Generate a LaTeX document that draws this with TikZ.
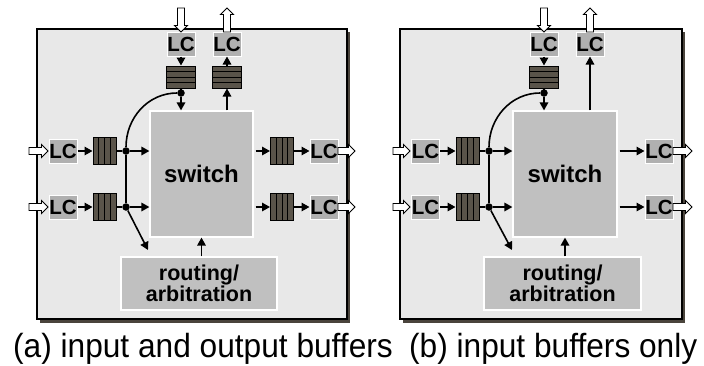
\documentclass[tikz,border=0pt]{standalone}
\usepackage{fontspec}
\setmainfont{Liberation Sans}
\usetikzlibrary{arrows.meta,calc}
\definecolor{panelc}{HTML}{E8E8E8}
\definecolor{shadc}{HTML}{4A443C}
\definecolor{blkc}{HTML}{C0C0C0}
\definecolor{lcc}{HTML}{B0B0B0}
\definecolor{bufc}{HTML}{5A544A}
\tikzset{
  panel/.style={draw=black, line width=1.2pt, fill=panelc},
  blk/.style={draw=white, line width=1.2pt, fill=blkc, inner sep=0pt, align=center,
    font=\bfseries\fontsize{24}{26}\selectfont},
  lc/.style={draw=white, line width=1pt, fill=lcc, minimum width=28pt, minimum height=24pt,
    inner sep=0pt, font=\bfseries\fontsize{20.5}{20}\selectfont},
  arr/.style={line width=1.6pt, -{Triangle[length=8pt,width=8.5pt]}},
  ln/.style={line width=1.6pt},
  dotc/.style={circle, fill=black, inner sep=0pt, minimum size=7.5pt},
  pics/oarrow/.style={code={
    \draw[line width=0.9pt, fill=white, line join=miter]
      (0,-3.5) -- (#1-6.5,-3.5) -- (#1-6.5,-6.5) -- (#1,0) -- (#1-6.5,6.5) -- (#1-6.5,3.5) -- (0,3.5) -- cycle;}},
  vbuf/.style={draw=black, line width=1pt, fill=bufc, minimum width=23pt, minimum height=27pt,
    inner sep=0pt, path picture={
      \foreach \f in {0.25,0.5,0.75}{
        \draw[line width=1pt] ($(path picture bounding box.north west)!\f!(path picture bounding box.north east)$)
          -- ($(path picture bounding box.south west)!\f!(path picture bounding box.south east)$);}}},
  hbuf/.style={draw=black, line width=1pt, fill=bufc, minimum width=29pt, minimum height=22pt,
    inner sep=0pt, path picture={
      \foreach \f in {0.25,0.5,0.75}{
        \draw[line width=1pt] ($(path picture bounding box.north west)!\f!(path picture bounding box.south west)$)
          -- ($(path picture bounding box.north east)!\f!(path picture bounding box.south east)$);}}},
  captext/.style={anchor=base west, inner sep=0pt, font=\fontsize{33.5}{33}\selectfont},
  rtfont/.style={font=\bfseries\fontsize{21.5}{21.5}\selectfont},
}
\begin{document}
\begin{tikzpicture}[x=1pt,y=-1pt]
\useasboundingbox (0,0) rectangle (704,365);

% ---------------- panel (a) ----------------
\fill[shadc] (40,32) rectangle (350,323);
\draw[panel] (37,29) rectangle (347,319);
\node[blk, minimum width=103pt, minimum height=126pt] (swA) at (201.5,174) {switch};
\node[blk, rtfont, minimum width=156pt, minimum height=53pt] (rtA) at (199,283.5) {routing/\\arbitration};
\node[lc] (lcAti) at (181,44) {LC};
\node[lc] (lcAto) at (227,44) {LC};
\node[hbuf] (bAti) at (181,77) {};
\node[hbuf] (bAto) at (227,77) {};
\node[dotc] (dA0) at (181,93) {};
\node[lc] (lcAi1) at (63,151) {LC};
\node[lc] (lcAi2) at (63,207) {LC};
\node[vbuf] (bAi1) at (104.5,151) {};
\node[vbuf] (bAi2) at (104.5,207) {};
\node[dotc] (dA1) at (126,151) {};
\node[dotc] (dA2) at (126,207) {};
\node[vbuf] (bAo1) at (282,151) {};
\node[vbuf] (bAo2) at (282,207) {};
\node[lc] (lcAo1) at (324,151) {LC};
\node[lc] (lcAo2) at (324,207) {LC};
\pic (oAi1) at (29,151) {oarrow=19};
\pic (oAi2) at (29,207) {oarrow=19};
\pic (oAo1) at (338,151) {oarrow=17};
\pic (oAo2) at (338,207) {oarrow=17};
\pic[rotate=-90] (oAti) at (181,8) {oarrow=24};
\pic[rotate=90] (oAto) at (227,32) {oarrow=24};
\coordinate (tA) at (148,250);

\draw[arr] (lcAti) -- (bAti);
\draw[ln] (bAti) -- (dA0);
\draw[arr] (dA0) -- (dA0 |- swA.north);
\draw[ln] (dA0) to[out=180,in=90] (dA1);
\draw[ln] (dA1) -- (dA2);
\draw[arr] (lcAi1) -- (bAi1);
\draw[arr] (lcAi2) -- (bAi2);
\draw[ln] (bAi1) -- (dA1);
\draw[ln] (bAi2) -- (dA2);
\draw[arr] (dA1) -- (dA1 -| swA.west);
\draw[arr] (dA2) -- (dA2 -| swA.west);
\draw[arr] (dA2) -- (tA);
\draw[arr] (rtA.north -| swA.south) -- (swA.south);
\draw[arr] ([xshift=2pt]swA.east |- bAo1) -- (bAo1);
\draw[arr] ([xshift=2pt]swA.east |- bAo2) -- (bAo2);
\draw[arr] (bAo1) -- (lcAo1);
\draw[arr] (bAo2) -- (lcAo2);
\draw[arr] (swA.north -| bAto) -- (bAto);
\draw[arr] (bAto) -- (lcAto);

% ---------------- panel (b) ----------------
\fill[shadc] (403,32) rectangle (685,323);
\draw[panel] (400,29) rectangle (682,319);
\node[blk, minimum width=104pt, minimum height=126pt] (swB) at (565,174) {switch};
\node[blk, rtfont, minimum width=157pt, minimum height=53pt] (rtB) at (562.5,283.5) {routing/\\arbitration};
\node[lc] (lcBti) at (544,44) {LC};
\node[lc] (lcBto) at (590,44) {LC};
\node[hbuf] (bBti) at (544,77) {};
\node[dotc] (dB0) at (544,93) {};
\node[lc] (lcBi1) at (425.5,151) {LC};
\node[lc] (lcBi2) at (425.5,207) {LC};
\node[vbuf] (bBi1) at (467.5,151) {};
\node[vbuf] (bBi2) at (467.5,207) {};
\node[dotc] (dB1) at (489,151) {};
\node[dotc] (dB2) at (489,207) {};
\node[lc] (lcBo1) at (659,151) {LC};
\node[lc] (lcBo2) at (659,207) {LC};
\pic (oBi1) at (393,151) {oarrow=17};
\pic (oBi2) at (393,207) {oarrow=17};
\pic (oBo1) at (673,151) {oarrow=19};
\pic (oBo2) at (673,207) {oarrow=19};
\pic[rotate=-90] (oBti) at (544,8) {oarrow=24};
\pic[rotate=90] (oBto) at (590,32) {oarrow=24};
\coordinate (tB) at (512,250);

\draw[arr] (lcBti) -- (bBti);
\draw[ln] (bBti) -- (dB0);
\draw[arr] (dB0) -- (dB0 |- swB.north);
\draw[ln] (dB0) to[out=180,in=90] (dB1);
\draw[ln] (dB1) -- (dB2);
\draw[arr] (lcBi1) -- (bBi1);
\draw[arr] (lcBi2) -- (bBi2);
\draw[ln] (bBi1) -- (dB1);
\draw[ln] (bBi2) -- (dB2);
\draw[arr] (dB1) -- (dB1 -| swB.west);
\draw[arr] (dB2) -- (dB2 -| swB.west);
\draw[arr] (dB2) -- (tB);
\draw[arr] (rtB.north -| swB.south) -- (swB.south);
\draw[arr] ([xshift=2pt]swB.east |- lcBo1) -- (lcBo1);
\draw[arr] ([xshift=2pt]swB.east |- lcBo2) -- (lcBo2);
\draw[arr] (swB.north -| lcBto) -- (lcBto);

% ---------------- captions ----------------
\node[captext] (capA) at (13,357) {\scalebox{0.945}[1]{(a) input and output buffers}};
\node[captext] (capB) at (409,357) {\scalebox{0.945}[1]{(b) input buffers only}};
\end{tikzpicture}
\end{document}
